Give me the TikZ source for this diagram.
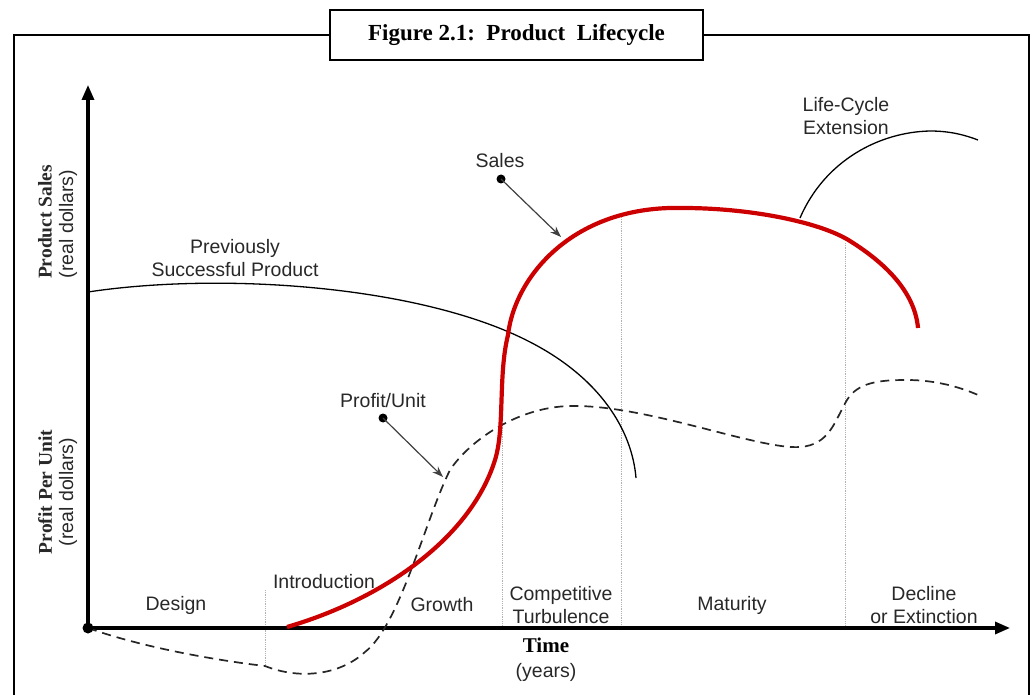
\documentclass[tikz,border=0pt]{standalone}
\usepackage{fontspec}
\setmainfont{Liberation Serif}
\setsansfont{Liberation Sans}
\usetikzlibrary{calc,arrows.meta}

\definecolor{salesred}{RGB}{204,0,0}
\definecolor{txtgray}{RGB}{40,40,40}

\tikzset{
  lbl/.style={font=\sffamily\fontsize{19.5}{23}\selectfont, align=center, inner sep=0pt, text=txtgray},
  axlbl/.style={font=\bfseries\fontsize{19.5}{23}\selectfont, rotate=90, inner sep=0pt, text=txtgray},
  axlblsub/.style={font=\sffamily\fontsize{19.5}{23}\selectfont, rotate=90, inner sep=0pt, text=txtgray},
  phase/.style={gray!60, line width=0.8pt, densely dotted},
  pointer/.style={black!75, line width=1.2pt, -{Stealth[length=11pt,width=8pt]}},
}

\begin{document}
\begin{tikzpicture}[x=1pt,y=-1pt]
        \useasboundingbox (0,0) rectangle (1034,695);

        %FRAME
        \node[draw, line width=2.5pt, minimum width=373pt, minimum height=50pt, inner sep=0pt,
              font=\bfseries\fontsize{23}{26}\selectfont] (title) at (516.5,35) {Figure~2.1:~~Product~~Lifecycle};
        \draw[line width=2.5pt] (title.west) -- (14,35) -- (14,695);
        \draw[line width=2.5pt] (title.east) -- (1029,35) -- (1029,695);

        %PHASE LINES
        \draw[phase] (265,590) -- (265,666);
        \draw[phase] (502,423) -- (502,628);
        \draw[phase] (621,217) -- (621,628);
        \draw[phase] (845,243) -- (845,628);

        %AXIS
        \coordinate (O) at (88,628);
        \coordinate (ytop) at (88,85);
        \coordinate (xend) at (1010,628);
        \draw[line width=3.2pt, {Triangle[length=15pt,width=12pt]}-{Triangle[length=15pt,width=12pt]}] (ytop) -- (O) -- (xend);

        %PREVIOUSLY SUCCESSFUL PRODUCT
        \draw[black, line width=1.3pt] (88,292) .. controls (220,272) and (420,285) .. (530,342)
          .. controls (600,378) and (632,430) .. (636,478);

        %PROFIT PER UNIT
        \draw[black!85, line width=1.7pt, dash pattern=on 9pt off 6pt]
          (O) .. controls (150,650) and (230,662) .. (265,666)
          .. controls (300,680) and (340,675) .. (365,652)
          .. controls (400,625) and (425,520) .. (450,470)
          .. controls (470,440) and (520,405) .. (575,406)
          .. controls (650,406) and (760,450) .. (800,447)
          .. controls (830,445) and (835,420) .. (847,400)
          .. controls (858,382) and (880,380) .. (907,380)
          .. controls (935,380) and (960,387) .. (978,395);

        %LIFE-CYCLE EXTENSION
        \draw[black, line width=1.3pt] (800,218) .. controls (825,160) and (880,132) .. (930,131)
          .. controls (950,131) and (965,135) .. (978,140);

        %SALES
        \draw[salesred, line width=4.2pt] (287,627) .. controls (380,600) and (470,540) .. (495,460)
          .. controls (505,428) and (498,375) .. (508,335)
          .. controls (515,275) and (575,205) .. (683,208)
          .. controls (750,208) and (820,222) .. (850,241)
          .. controls (890,266) and (915,295) .. (918,328);

        \fill (O) circle (5.5pt);

        %LABEL
        \node[axlbl] (ps) at (45,222) {Product Sales};
        \node[axlblsub] (psrd) at (68,224) {(real dollars)};
        \node[axlbl] (ppu) at (45,492) {Profit Per Unit};
        \node[axlblsub] (ppurd) at (68,492) {(real dollars)};

        \node[lbl] (prev) at (235,258) {Previously\\Successful Product};
        \node[lbl] (ext) at (846,116) {Life-Cycle\\Extension};

        \node[lbl] (sales) at (500,161) {Sales};
        \coordinate (sdot) at (501,179);
        \coordinate (stip) at (561,237);
        \fill (sdot) circle (4.5pt);
        \draw[pointer] (sdot) -- (stip);

        \node[lbl] (profit) at (383,401) {Profit/Unit};
        \coordinate (pdot) at (383,418);
        \coordinate (ptip) at (443,477);
        \fill (pdot) circle (4.5pt);
        \draw[pointer] (pdot) -- (ptip);

        \node[lbl] (design) at (176,605) {Design};
        \node[lbl] (intro) at (324,582) {Introduction};
        \node[lbl] (growth) at (442,605) {Growth};
        \node[lbl] (turb) at (561,605) {Competitive\\Turbulence};
        \node[lbl] (mat) at (732,605) {Maturity};
        \node[lbl] (decl) at (924,605) {Decline\\or Extinction};

        \node[font=\bfseries\fontsize{21}{24}\selectfont, inner sep=0pt] (time) at (546,645) {Time};
        \node[lbl] (years) at (546,672) {(years)};
    \end{tikzpicture}
\end{document}
